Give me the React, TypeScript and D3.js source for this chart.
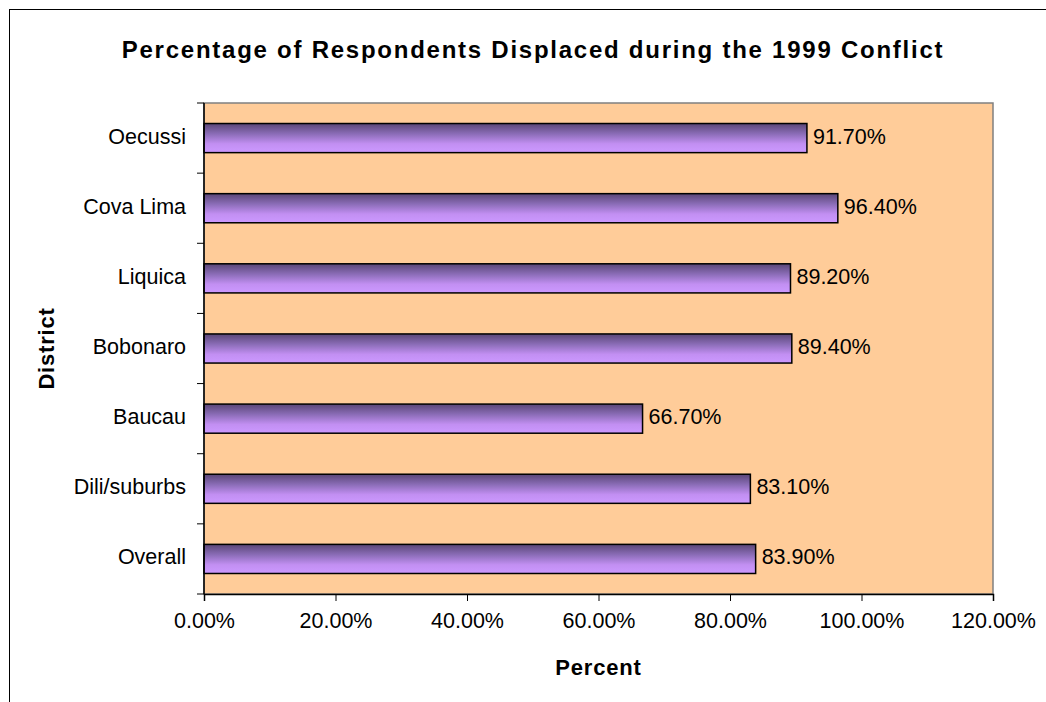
import { useEffect, useRef } from 'react';
import * as d3 from 'd3';

const districts = ['Oecussi', 'Cova Lima', 'Liquica', 'Bobonaro', 'Baucau', 'Dili/suburbs', 'Overall'];
const displaced = [91.7, 96.4, 89.2, 89.4, 66.7, 83.1, 83.9];
const xTicks = [0, 20, 40, 60, 80, 100, 120];

const W = 1046;
const H = 702;
const FONT = '"Liberation Sans", Arial, sans-serif';

export default function App() {
  const svgRef = useRef<SVGSVGElement>(null);

  useEffect(() => {
    if (!svgRef.current) return;
    const svg = d3.select(svgRef.current);
    svg.selectAll('*').remove();

    const margin = { top: 103, right: 53, bottom: 108, left: 204 };
    const width = W - margin.left - margin.right;
    const innerHeight = H - margin.top - margin.bottom;

    // outer frame (runs off right/bottom edge)
    svg.append('rect')
      .attr('x', 9.5).attr('y', 9.5)
      .attr('width', 1200).attr('height', 1000)
      .attr('fill', '#fff')
      .attr('stroke', '#000')
      .attr('stroke-width', 1);

    // Gradient for bars
    const defs = svg.append('defs');
    const grad = defs.append('linearGradient')
      .attr('id', 'barGradient')
      .attr('x1', '0%').attr('y1', '0%')
      .attr('x2', '0%').attr('y2', '100%');
    grad.append('stop').attr('offset', '0%').attr('stop-color', '#5a4676');
    grad.append('stop').attr('offset', '35%').attr('stop-color', '#8a6cb6');
    grad.append('stop').attr('offset', '70%').attr('stop-color', '#c28ff2');
    grad.append('stop').attr('offset', '100%').attr('stop-color', '#cc99ff');

    const g = svg.append('g')
      .attr('transform', `translate(${margin.left},${margin.top})`);

    // Scales
    const x = d3.scaleLinear().domain([0, 120]).range([0, width]);
    const y = d3.scaleBand<string>()
      .domain(districts)
      .range([0, innerHeight])
      .paddingInner(0.585)
      .paddingOuter(0.2925);

    // plot background
    g.append('rect')
      .attr('width', width)
      .attr('height', innerHeight)
      .attr('fill', '#ffcc99')
      .attr('stroke', '#808080')
      .attr('stroke-width', 1.5);

    // Bars
    g.selectAll('.bar')
      .data(districts)
      .enter()
      .append('rect')
      .attr('class', 'bar')
      .attr('x', 0)
      .attr('y', d => y(d)!)
      .attr('width', (d, i) => x(displaced[i]))
      .attr('height', y.bandwidth())
      .attr('fill', 'url(#barGradient)')
      .attr('stroke', '#000')
      .attr('stroke-width', 1.5);

    // Value labels
    g.selectAll('.val')
      .data(districts)
      .enter()
      .append('text')
      .attr('x', (d, i) => x(displaced[i]) + 6)
      .attr('y', d => y(d)! + y.bandwidth() / 2 - 2)
      .attr('dy', '0.35em')
      .attr('font-family', FONT)
      .attr('font-size', 21.5)
      .attr('fill', '#000')
      .text((d, i) => `${displaced[i].toFixed(2)}%`);

    // X axis
    const xAxis = d3.axisBottom(x)
      .tickValues(xTicks)
      .tickSize(7)
      .tickPadding(12)
      .tickFormat(d => `${(d as number).toFixed(2)}%`);

    const xg = g.append('g')
      .attr('transform', `translate(0,${innerHeight})`)
      .call(xAxis);
    xg.select('.domain').attr('stroke', '#000').attr('stroke-width', 1.5);
    xg.selectAll('.tick line').attr('stroke', '#000');
    xg.selectAll('text')
      .attr('font-family', FONT)
      .attr('font-size', 21.5)
      .attr('fill', '#000');

    // Y axis: ticks on band boundaries
    const yLin = d3.scaleLinear().domain([0, districts.length]).range([0, innerHeight]);
    const yg = g.append('g');
    yg.append('line')
      .attr('x1', 0).attr('x2', 0)
      .attr('y1', 0).attr('y2', innerHeight)
      .attr('stroke', '#000').attr('stroke-width', 1.5);
    yg.selectAll('.ytick')
      .data(d3.range(districts.length + 1))
      .enter()
      .append('line')
      .attr('x1', -7).attr('x2', 0)
      .attr('y1', d => yLin(d)).attr('y2', d => yLin(d))
      .attr('stroke', '#000');
    yg.selectAll('.ylab')
      .data(districts)
      .enter()
      .append('text')
      .attr('x', -18)
      .attr('y', d => y(d)! + y.bandwidth() / 2 - 2)
      .attr('dy', '0.35em')
      .attr('text-anchor', 'end')
      .attr('font-family', FONT)
      .attr('font-size', 21.5)
      .attr('fill', '#000')
      .text(d => d);

    // Title
    svg.append('text')
      .attr('x', 533)
      .attr('y', 58)
      .attr('text-anchor', 'middle')
      .attr('font-family', FONT)
      .attr('font-weight', 'bold')
      .attr('font-size', 24)
      .attr('letter-spacing', 1.75)
      .text('Percentage of Respondents Displaced during the 1999 Conflict');

    // Axis titles
    svg.append('text')
      .attr('x', margin.left + width / 2)
      .attr('y', 675)
      .attr('text-anchor', 'middle')
      .attr('font-family', FONT)
      .attr('font-weight', 'bold')
      .attr('font-size', 22)
      .attr('letter-spacing', 0.8)
      .text('Percent');

    svg.append('text')
      .attr('transform', `translate(54,${margin.top + innerHeight / 2}) rotate(-90)`)
      .attr('text-anchor', 'middle')
      .attr('font-family', FONT)
      .attr('font-weight', 'bold')
      .attr('font-size', 22)
      .attr('letter-spacing', 0.8)
      .text('District');
  }, []);

  return (
    <svg
      ref={svgRef}
      width={W}
      height={H}
      style={{ position: 'absolute', left: 0, top: 0, display: 'block', background: '#fff' }}
    />
  );
}
